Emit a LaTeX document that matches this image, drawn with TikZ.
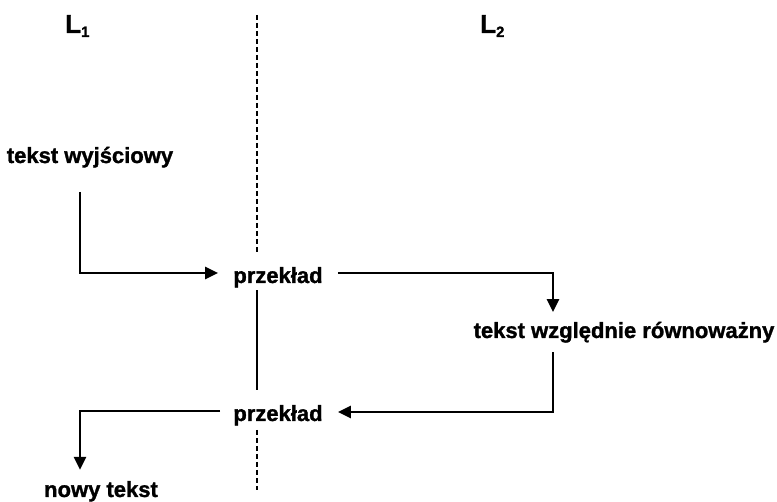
\documentclass[tikz,border=0pt]{standalone}
\usepackage{fontspec}
\setmainfont{Liberation Sans}
\newfontfamily\heavyfont{Liberation Sans Bold}[FakeBold=1.3]
\usetikzlibrary{arrows.meta}

\tikzset{
  lbl/.style={inner sep=0pt, anchor=base, font=\fontsize{22}{22}\selectfont\heavyfont},
  lang/.style={inner sep=0pt, anchor=base west, font=\fontsize{26}{26}\selectfont\heavyfont},
  conn/.style={line width=2.5pt, line join=miter},
  arr/.style={conn, -{Triangle[length=13pt,width=12pt]}},
  border/.style={line width=2.5pt, dash pattern=on 5pt off 3pt}
}
\newcommand{\langsub}[1]{\raisebox{-4pt}{\fontsize{15}{15}\selectfont #1}}

\begin{document}
\begin{tikzpicture}[x=1pt, y=-1pt]
  \useasboundingbox (0,0) rectangle (777,502);

  % language labels
  \node[lang] (l1) at (65,33) {L\langsub{1}};
  \node[lang] (l2) at (480,33) {L\langsub{2}};

  % texts
  \node[lbl] (tw) at (90,163) {tekst wyjściowy};
  \node[lbl] (p1) at (278,283) {przekład};
  \node[lbl] (tr) at (624,338) {tekst względnie równoważny};
  \node[lbl] (p2) at (278,421) {przekład};
  \node[lbl] (nt) at (101,497) {nowy tekst};

  % corners of the connectors and ends of the border line
  \coordinate (c1) at (80,273);
  \coordinate (c2) at (553,273);
  \coordinate (c3) at (553,412);
  \coordinate (c4) at (80,411);
  \coordinate (top) at (257,15);
  \coordinate (bot) at (257,490);

  % language border
  \draw[border, shorten >=15pt] (top) -- (top |- p1.north);
  \draw[border, shorten <=4pt] (bot |- p2.south) -- (bot);
  \draw[conn, shorten <=2.5pt, shorten >=15pt] (top |- p1.south) -- (top |- p2.north);

  % translation path
  \draw[arr, shorten <=24pt, shorten >=15pt] (c1 |- tw.south) -- (c1) -- (c1 -| p1.west);
  \draw[arr, shorten <=15pt, shorten >=9.5pt] (p1.east |- c2) -- (c2) -- (c2 |- tr.north);
  \draw[arr, shorten <=9.5pt, shorten >=15pt] (c3 |- tr.south) -- (c3) -- (c3 -| p2.east);
  \draw[arr, shorten <=13pt, shorten >=11pt] (c4 -| p2.west) -- (c4) -- (c4 |- nt.north);
\end{tikzpicture}
\end{document}
